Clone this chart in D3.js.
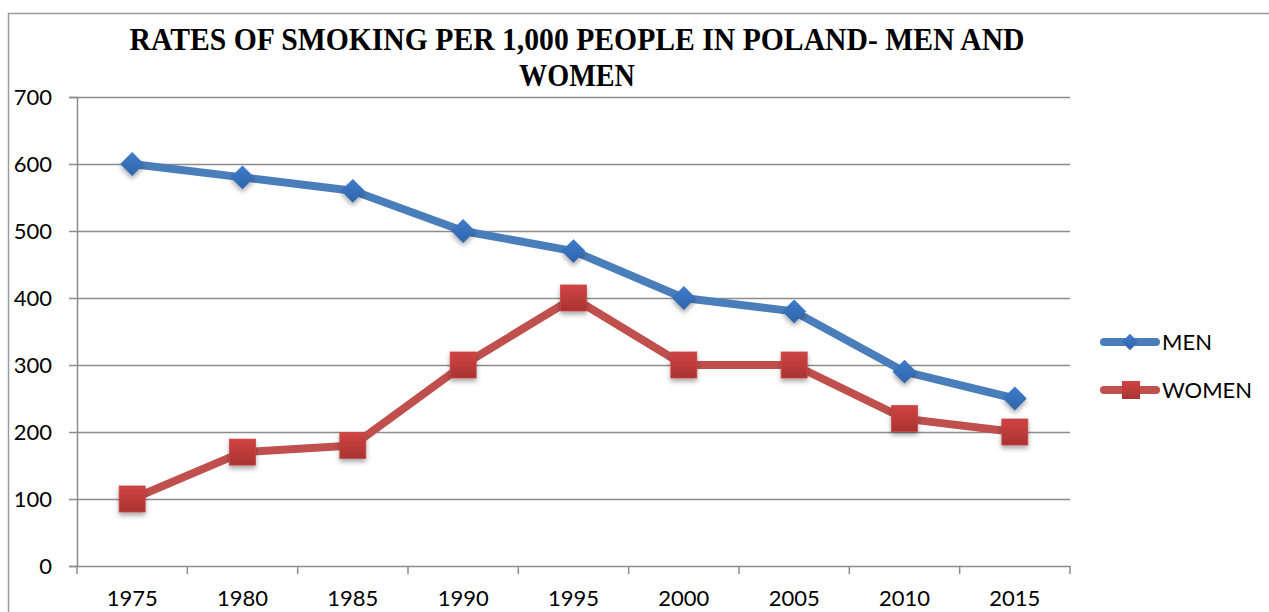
<!DOCTYPE html>
<html><head><meta charset="utf-8">
<script src="https://cdn.jsdelivr.net/npm/d3@7"></script>
<style>body{margin:0;background:#fff;}svg{display:block;}</style>
</head><body>
<svg id="c" width="1269" height="612"></svg>
<script>
const years = ["1975","1980","1985","1990","1995","2000","2005","2010","2015"];
const men = [600,580,560,500,470,400,380,290,250];
const women = [100,170,180,300,400,300,300,220,200];
const yTicks = [0,100,200,300,400,500,600,700];
const titleLines = ["RATES OF SMOKING PER 1,000 PEOPLE IN POLAND- MEN AND","WOMEN"];
const seriesNames = ["MEN","WOMEN"];

const svg = d3.select("#c");
const W=1269,H=612;
const L=77,R=1070,T=97,B=566;
const x = d3.scaleBand().domain(years).range([L,R]);
const y = d3.scaleLinear().domain([0,700]).range([B,T]);
const font = "Lato, 'Open Sans', sans-serif";

const defs = svg.append("defs");
const gB = defs.append("linearGradient").attr("id","gb").attr("x1",0).attr("y1",0).attr("x2",0).attr("y2",1);
gB.append("stop").attr("offset","0").attr("stop-color","#3f7ccc");
gB.append("stop").attr("offset","1").attr("stop-color","#2f64aa");
const gR = defs.append("linearGradient").attr("id","gr").attr("x1",0).attr("y1",0).attr("x2",0).attr("y2",1);
gR.append("stop").attr("offset","0").attr("stop-color","#d04443");
gR.append("stop").attr("offset","1").attr("stop-color","#a83332");
const f = defs.append("filter").attr("id","sh").attr("x","-50%").attr("y","-50%").attr("width","200%").attr("height","200%");
f.append("feDropShadow").attr("dx",0).attr("dy",3).attr("stdDeviation",2.5).attr("flood-color","#000").attr("flood-opacity",0.35);

// outer border (top and left)
svg.append("line").attr("x1",8).attr("x2",W).attr("y1",13.5).attr("y2",13.5).attr("stroke","#9a9a9a").attr("stroke-width",1.5);
svg.append("line").attr("x1",8.5).attr("x2",8.5).attr("y1",13).attr("y2",H).attr("stroke","#9a9a9a").attr("stroke-width",1.5);

// gridlines
svg.append("g").selectAll("line").data(yTicks.filter(d=>d>0)).join("line")
  .attr("x1",L).attr("x2",R).attr("y1",d=>Math.round(y(d))+0.5).attr("y2",d=>Math.round(y(d))+0.5)
  .attr("stroke","#8c8c8c").attr("stroke-width",1.5);

// y axis
const ya = svg.append("g").attr("transform",`translate(${L},0)`)
  .call(d3.axisLeft(y).tickValues(yTicks).tickSize(8).tickPadding(17));
ya.select(".domain").attr("stroke","#8c8c8c").attr("stroke-width",1.5);
ya.selectAll(".tick line").attr("stroke","#8c8c8c").attr("stroke-width",1.5);
ya.selectAll("text").attr("font-family",font).attr("font-size",22).attr("fill","#000");

// x axis
const xa = svg.append("g").attr("transform",`translate(0,${B})`)
  .call(d3.axisBottom(x).tickSize(0).tickPadding(24));
xa.select(".domain").attr("stroke","#8c8c8c").attr("stroke-width",1.5);
xa.selectAll("text").attr("font-family",font).attr("font-size",22).attr("fill","#000");
const bounds = years.map(d=>x(d)).concat([R]);
svg.append("g").selectAll("line").data(bounds).join("line")
  .attr("x1",d=>d).attr("x2",d=>d).attr("y1",B).attr("y2",B+8)
  .attr("stroke","#8c8c8c").attr("stroke-width",1.5);

const cx = d=>x(d)+x.bandwidth()/2;
const line = d3.line().x((d,i)=>cx(years[i])).y(d=>y(d));

// lines
svg.append("path").datum(men).attr("d",line).attr("fill","none").attr("stroke","#4a7ebb").attr("stroke-width",8).attr("stroke-linejoin","round").attr("stroke-linecap","round");
svg.append("path").datum(women).attr("d",line).attr("fill","none").attr("stroke","#c0504d").attr("stroke-width",8).attr("stroke-linejoin","round").attr("stroke-linecap","round");

// markers
const dia = d3.symbol().type(d3.symbolDiamond2).size(360);
svg.append("g").selectAll("path").data(men).join("path")
  .attr("d",dia).attr("transform",(d,i)=>`translate(${cx(years[i])},${y(d)})`)
  .attr("fill","url(#gb)").attr("filter","url(#sh)");
svg.append("g").selectAll("rect").data(women).join("rect")
  .attr("x",(d,i)=>cx(years[i])-13).attr("y",d=>y(d)-13).attr("width",26).attr("height",26)
  .attr("fill","url(#gr)").attr("stroke","#c94544").attr("stroke-width",0.8).attr("filter","url(#sh)");

// title
const tf = "'Liberation Serif', 'DejaVu Serif', serif";
const t1 = svg.append("text").attr("x",577).attr("y",50).attr("text-anchor","middle")
  .attr("font-family",tf).attr("font-weight","bold").attr("font-size",31).text(titleLines[0]);
const t2 = svg.append("text").attr("x",577).attr("y",86).attr("text-anchor","middle")
  .attr("font-family",tf).attr("font-weight","bold").attr("font-size",31).text(titleLines[1]);
[[t1,895],[t2,116]].forEach(([t,w])=>{ t.attr("textLength",w).attr("lengthAdjust","spacingAndGlyphs"); });

// legend
const lg = svg.append("g");
const ly = [342,390];
const cols = ["#4a7ebb","#c0504d"];
seriesNames.forEach((n,i)=>{
  lg.append("line").attr("x1",1104).attr("x2",1156).attr("y1",ly[i]).attr("y2",ly[i])
    .attr("stroke",cols[i]).attr("stroke-width",8).attr("stroke-linecap","round");
  if(i===0){
    lg.append("path").attr("d",d3.symbol().type(d3.symbolDiamond2).size(170)).attr("transform",`translate(1130,${ly[i]})`).attr("fill","url(#gb)");
  } else {
    lg.append("rect").attr("x",1122).attr("y",ly[i]-9).attr("width",18).attr("height",18).attr("fill","url(#gr)");
  }
  lg.append("text").attr("x",1162).attr("y",ly[i]).attr("dy","0.35em").attr("font-family",font).attr("font-size",22).attr("fill","#000").text(n);
});
</script>
</body></html>
